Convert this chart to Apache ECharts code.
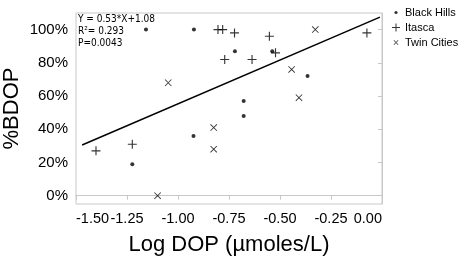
<!DOCTYPE html>
<html>
<head>
<meta charset="utf-8">
<script src="https://cdn.jsdelivr.net/npm/echarts@6/dist/echarts.min.js"></script>
<style>
html, body { margin: 0; padding: 0; background: #fff; }
#chart { width: 459px; height: 257px; }
</style>
</head>
<body>
<div id="chart"></div>
<script>
// log DOP vs %BDOP, three sites
var blackHills = [[-1.157, 100], [-0.922, 100], [-0.721, 87], [-0.538, 87], [-0.365, 72],
	[-0.678, 57], [-0.678, 48], [-0.924, 36], [-1.224, 19]];
var itasca = [[-1.402, 27], [-1.224, 31], [-0.804, 100], [-0.781, 100], [-0.723, 98],
	[-0.771, 82], [-0.637, 82], [-0.552, 96], [-0.522, 86], [-0.074, 98]];
var twinCities = [[-1.048, 68], [-0.327, 100], [-0.443, 76], [-0.407, 59], [-0.825, 41],
	[-0.825, 28], [-1.100, 0]];
// fitted line end points
var fitLine = [[-1.47, 30.5], [-0.01, 107.5]];
var yTicks = [0, 20, 40, 60, 80, 100];
var statText = ['Y = 0.53*X+1.08', 'R\u00b2= 0.293', 'P=0.0043'];

var plusPath = 'path://M-4,-0.5 L4,-0.5 L4,0.5 L-4,0.5 Z M-0.5,-4 L0.5,-4 L0.5,4 L-0.5,4 Z';
var crossPath = 'path://M-4,-3.3 L-3.3,-4 L4,3.3 L3.3,4 Z M3.3,-4 L4,-3.3 L-3.3,4 L-4,3.3 Z';
// legend icons, padded so they stay small inside the icon box
var dotIcon = 'path://M-4,-4 L-4,-4 M4,4 L4,4 M-1.6,0 A1.6,1.6 0 1 1 1.6,0 A1.6,1.6 0 1 1 -1.6,0 Z';
var crossIcon = 'path://M-5,-5 L-5,-5 M5,5 L5,5 M-3,-2.4 L-2.4,-3 L3,2.4 L2.4,3 Z M2.4,-3 L3,-2.4 L-2.4,3 L-3,2.4 Z';

var chart = echarts.init(document.getElementById('chart'));
var font = '"Liberation Sans", Arial, Helvetica, sans-serif';

chart.setOption({
	animation : false,
	textStyle : { fontFamily : font },
	grid : {
		left : 76,
		right : 77,
		top : 13,
		bottom : 53,
		outerBoundsMode : 'none',
		containLabel : false,
		show : true,
		borderColor : '#c8c8c8',
		borderWidth : 1
	},
	legend : {
		orient : 'vertical',
		left : 387,
		top : 2,
		itemWidth : 8,
		itemHeight : 8,
		itemGap : 4,
		data : [
			{ name : 'Black Hills', icon : dotIcon },
			{ name : 'Itasca', icon : plusPath },
			{ name : 'Twin Cities', icon : crossIcon }
		],
		textStyle : { color : '#000', fontSize : 11, fontFamily : font }
	},
	xAxis : {
		type : 'value',
		min : -1.5,
		max : 0,
		interval : 0.25,
		name : 'Log DOP (\u00b5moles/L)',
		nameLocation : 'middle',
		nameGap : 30,
		nameTextStyle : { color : '#000', fontSize : 22, fontFamily : font },
		axisLine : { lineStyle : { color : '#c8c8c8' } },
		axisTick : { length : 4, lineStyle : { color : '#c8c8c8' } },
		splitLine : { show : false },
		axisLabel : {
			color : '#000',
			fontSize : 14.5,
			margin : 7,
			showMinLabel : true,
			showMaxLabel : true,
			hideOverlap : false,
			alignMinLabel : 'left',
			alignMaxLabel : 'right',
			formatter : function (v) { return v.toFixed(2); }
		}
	},
	yAxis : {
		type : 'value',
		min : -5,
		max : 110,
		name : '%BDOP',
		nameLocation : 'middle',
		nameGap : 53,
		nameMoveOverlap : false,
		nameTextStyle : { color : '#000', fontSize : 22, fontFamily : font },
		axisLine : { show : true, lineStyle : { color : '#c8c8c8' } },
		axisTick : { show : true, length : 4, customValues : yTicks, lineStyle : { color : '#c8c8c8' } },
		splitLine : { show : false },
		axisLabel : {
			color : '#000',
			fontSize : 15,
			margin : 8,
			customValues : yTicks,
			formatter : '{value}%'
		}
	},
	graphic : [{
		type : 'text',
		left : 78,
		top : 13,
		style : {
			text : statText.join('\n'),
			fontSize : 10,
			lineHeight : 12,
			fontFamily : '"Liberation Sans Narrow", "DejaVu Sans Condensed", Arial, sans-serif',
			fill : '#000'
		}
	}],
	series : [{
		name : 'Black Hills',
		type : 'scatter',
		symbol : 'circle',
		symbolSize : 4,
		itemStyle : { color : '#000' },
		data : blackHills
	}, {
		name : 'Itasca',
		type : 'scatter',
		symbol : plusPath,
		symbolSize : 9,
		itemStyle : { color : '#000' },
		data : itasca
	}, {
		name : 'Twin Cities',
		type : 'scatter',
		symbol : crossPath,
		symbolSize : 7,
		itemStyle : { color : '#000' },
		data : twinCities
	}, {
		name : 'fit',
		type : 'line',
		symbol : 'none',
		lineStyle : { color : '#000', width : 1.5 },
		data : fitLine
	}]
});
</script>
</body>
</html>
